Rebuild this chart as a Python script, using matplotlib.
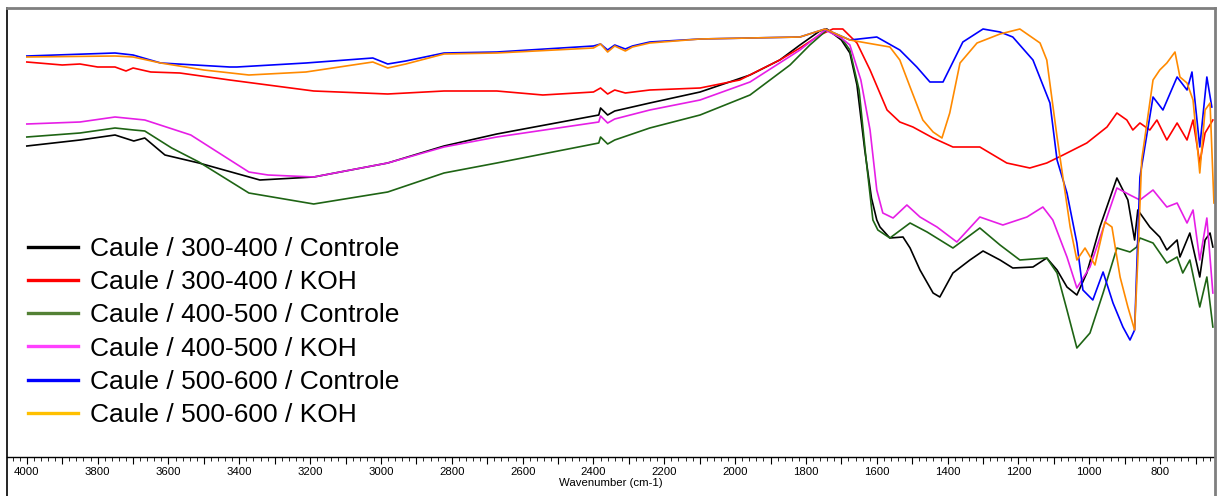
import numpy as np
import matplotlib
matplotlib.use('Agg')
import matplotlib.pyplot as plt
from matplotlib.lines import Line2D
from matplotlib.ticker import MultipleLocator, FuncFormatter

plt.rcParams['font.family'] = ['Liberation Sans', 'DejaVu Sans']

# intensity in arbitrary units (no y scale shown on the original)
wn_blk = [4000, 3850, 3751, 3698, 3667, 3610, 3514, 3342, 3190, 2981, 2822, 2673, 2385, 2380, 2360, 2340,
          2241, 2099, 1958, 1874, 1817, 1761, 1741, 1700, 1676, 1656, 1634, 1615, 1600, 1591, 1563, 1526,
          1506, 1478, 1441, 1422, 1385, 1337, 1300, 1252, 1216, 1159, 1120, 1091, 1063, 1035, 1007, 970,
          922, 891, 872, 863, 829, 801, 781, 752, 744, 716, 688, 673, 659, 651]
val_blk = [314, 320, 325, 319, 322, 305, 297, 280, 283, 297, 314, 326, 345, 352, 345, 349,
           357, 368, 385, 400, 415, 429, 431, 420, 407, 375, 310, 262, 240, 233, 222, 223,
           212, 190, 167, 163, 187, 200, 209, 200, 192, 193, 202, 190, 173, 165, 187, 233,
           282, 260, 220, 250, 233, 223, 210, 220, 203, 227, 183, 220, 227, 213]

wn_red = [4000, 3900, 3850, 3800, 3751, 3720, 3700, 3650, 3568, 3427, 3190, 2981, 2822, 2673, 2543, 2400,
          2380, 2360, 2340, 2310, 2241, 2099, 1987, 1874, 1817, 1761, 1724, 1696, 1656, 1619, 1571, 1535,
          1498, 1441, 1385, 1309, 1233, 1168, 1120, 1074, 1007, 950, 922, 894, 877, 857, 829, 809,
          781, 752, 724, 707, 688, 673, 651]
val_red = [398, 395, 396, 393, 393, 389, 392, 388, 387, 380, 369, 366, 369, 369, 365, 368,
           372, 366, 370, 367, 370, 372, 380, 400, 412, 425, 431, 431, 417, 390, 350, 338,
           333, 322, 313, 313, 297, 292, 297, 305, 317, 333, 347, 340, 330, 337, 330, 340,
           320, 337, 320, 340, 297, 327, 340]

wn_grn = [4000, 3850, 3751, 3698, 3667, 3591, 3514, 3373, 3190, 2981, 2822, 2673, 2385, 2380, 2360, 2340,
          2241, 2099, 1958, 1845, 1789, 1741, 1700, 1676, 1650, 1630, 1611, 1597, 1563, 1506, 1458, 1385,
          1309, 1252, 1196, 1120, 1091, 1063, 1035, 998, 961, 922, 885, 866, 857, 820, 781, 752,
          736, 716, 688, 668, 651]
val_grn = [323, 327, 332, 330, 329, 312, 298, 267, 256, 268, 287, 297, 317, 323, 316, 320,
           332, 345, 365, 395, 415, 430, 422, 410, 370, 300, 240, 230, 222, 237, 228, 212,
           232, 215, 200, 202, 187, 150, 112, 127, 167, 212, 208, 213, 222, 217, 197, 203,
           187, 200, 153, 183, 133]

wn_mag = [4000, 3850, 3751, 3667, 3537, 3373, 3319, 3190, 2981, 2822, 2673, 2385, 2380, 2360, 2340, 2241,
          2099, 1958, 1817, 1746, 1700, 1676, 1645, 1619, 1600, 1583, 1554, 1515, 1478, 1430, 1374, 1309,
          1244, 1176, 1131, 1103, 1063, 1035, 998, 950, 922, 885, 857, 820, 781, 752, 724, 707,
          688, 668, 651]
val_mag = [336, 338, 343, 340, 325, 288, 285, 283, 297, 313, 323, 338, 344, 337, 341, 350,
           360, 378, 410, 430, 422, 415, 380, 330, 270, 247, 242, 255, 243, 233, 218, 243,
           235, 243, 253, 240, 203, 172, 193, 243, 272, 265, 260, 270, 253, 257, 237, 250,
           200, 242, 167]

wn_blu = [4000, 3751, 3700, 3622, 3427, 3407, 3212, 3023, 2981, 2930, 2822, 2673, 2400, 2380, 2360, 2340,
          2310, 2290, 2241, 2099, 1958, 1817, 1746, 1676, 1600, 1535, 1487, 1450, 1413, 1357, 1300, 1252,
          1216, 1159, 1111, 1091, 1063, 1035, 1018, 990, 961, 933, 905, 885, 872, 857, 820, 792,
          752, 724, 710, 688, 668, 654]
val_blu = [404, 407, 405, 397, 393, 393, 397, 402, 396, 399, 407, 408, 414, 416, 410, 415,
           411, 414, 418, 421, 422, 423, 431, 420, 423, 410, 393, 378, 378, 418, 431, 428,
           423, 400, 357, 300, 267, 217, 170, 160, 188, 157, 133, 120, 130, 283, 363, 350,
           383, 370, 388, 313, 383, 353]

wn_org = [4000, 3751, 3700, 3622, 3500, 3373, 3212, 3023, 2981, 2930, 2822, 2673, 2400, 2380, 2360, 2340,
          2310, 2290, 2241, 2099, 1958, 1817, 1746, 1676, 1628, 1563, 1535, 1506, 1470, 1441, 1416, 1394,
          1365, 1317, 1252, 1196, 1139, 1120, 1091, 1054, 1035, 1012, 984, 956, 936, 913, 891, 872,
          863, 852, 820, 801, 781, 758, 744, 724, 707, 688, 673, 659, 648]
val_org = [403, 404, 403, 397, 390, 385, 388, 398, 392, 396, 406, 407, 412, 416, 408, 414,
           409, 413, 417, 421, 422, 423, 431, 420, 417, 413, 400, 373, 340, 328, 322, 347,
           397, 417, 426, 431, 417, 400, 323, 233, 200, 212, 195, 238, 233, 183, 153, 130,
           200, 300, 380, 390, 397, 408, 383, 377, 360, 287, 350, 357, 257]

labels = ['Caule / 300-400 / Controle', 'Caule / 300-400 / KOH',
          'Caule / 400-500 / Controle', 'Caule / 400-500 / KOH',
          'Caule / 500-600 / Controle', 'Caule / 500-600 / KOH']
line_colors = ['#000000', '#FF0000', '#1E6414', '#E61EE6', '#0000FF', '#FF8A00']
legend_colors = ['#000000', '#FF0000', '#538135', '#FF40FF', '#0000FF', '#FFC000']

series = [(wn_blk, val_blk), (wn_red, val_red), (wn_grn, val_grn),
          (wn_mag, val_mag), (wn_blu, val_blu), (wn_org, val_org)]

fig = plt.figure(figsize=(12.18, 4.96), dpi=100)
fig.set_facecolor('white')
W, H = 1218.0, 496.0
ax = fig.add_axes([7 / W, (H - 457) / H, 1208 / W, 449 / H])

for (x, y), c in zip(series, line_colors):
    ax.plot(x, y, color=c, lw=1.2)

ax.set_xlim(4056, 645)
ax.set_ylim(3, 452)
for s in ['left', 'top', 'right']:
    ax.spines[s].set_visible(False)
ax.spines['bottom'].set_linewidth(1.0)
ax.get_yaxis().set_visible(False)

ax.xaxis.set_major_locator(MultipleLocator(100))
ax.xaxis.set_minor_locator(MultipleLocator(20))
ax.xaxis.set_major_formatter(FuncFormatter(lambda v, p: '%d' % v if int(round(v)) % 200 == 0 else ''))
ax.tick_params(axis='x', which='major', length=5, width=0.8, labelsize=8.2, pad=2)
ax.tick_params(axis='x', which='minor', length=3, width=0.6)
ax.set_xlabel('Wavenumber (cm-1)', fontsize=8.2, labelpad=1)

handles = [Line2D([0], [0], color=c, lw=2.4) for c in legend_colors]
ax.legend(handles, labels, loc='upper left', bbox_to_anchor=(21 / 1208, (457 - 237) / 449),
          bbox_transform=ax.transAxes, frameon=False, fontsize=19, handlelength=1.9,
          handletextpad=0.45, labelspacing=0.35, borderpad=0, borderaxespad=0)

# outer frame
fig.add_artist(Line2D([7 / W, 7 / W], [0, 1 - 8 / H], color='black', lw=1.2))
fig.add_artist(Line2D([7 / W, 1215 / W], [1 - 8 / H, 1 - 8 / H], color='#7F7F7F', lw=2.0))
fig.add_artist(Line2D([1215 / W, 1215 / W], [0, 1 - 8 / H], color='#7F7F7F', lw=2.0))

plt.savefig('out.png', dpi=100)
